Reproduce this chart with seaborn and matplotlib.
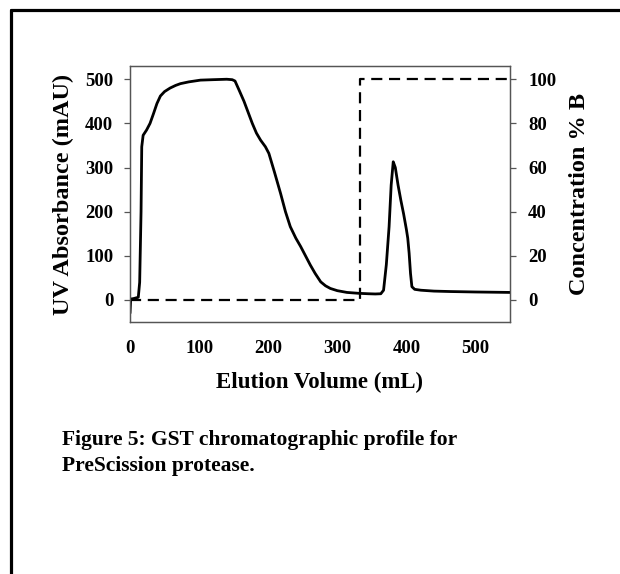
import matplotlib
matplotlib.use("Agg")
import matplotlib.pyplot as plt
from matplotlib.lines import Line2D
import pandas as pd
import seaborn as sns

# UV trace (mAU) against elution volume (mL)
uv_volume = [0, 1, 5, 12, 14, 16, 17, 19, 24, 29,
             34, 39, 44, 50, 58, 66, 73, 85, 102, 120,
             140, 148, 152, 158, 165, 171, 177, 183, 189, 196,
             201, 209, 218, 225, 232, 240, 247, 254, 261, 268,
             276, 283, 290, 300, 314, 331, 345, 355, 363, 367,
             371, 375, 378, 381, 384, 388, 392, 396, 400, 402,
             404, 406, 408, 412, 421, 440, 464, 500, 550]
uv_mau = [-30, 2, 3, 6, 40, 200, 347, 373, 385, 400,
          422, 445, 462, 472, 480, 486, 490, 494, 498, 499,
          500, 499, 496, 475, 450, 425, 400, 378, 362, 347,
          332, 290, 241, 200, 166, 140, 121, 100, 79, 60,
          41, 32, 26, 21, 17, 15, 14, 13.5, 14, 22,
          80, 166, 260, 313, 300, 260, 226, 195, 160, 140,
          106, 60, 30, 24, 22, 20, 19, 18, 17]

# Buffer B step gradient (%)
conc_volume = [0, 333, 333, 550]
conc_pct = [0, 0, 100, 100]

x_ticks = [0, 100, 200, 300, 400, 500]
uv_ticks = [0, 100, 200, 300, 400, 500]
conc_ticks = [0, 20, 40, 60, 80, 100]

uv_df = pd.DataFrame({"volume": uv_volume, "mau": uv_mau})
conc_df = pd.DataFrame({"volume": conc_volume, "pct": conc_pct})

sns.set_theme(style="white")
plt.rcParams["font.family"] = ["Liberation Serif", "DejaVu Serif"]
plt.rcParams["font.weight"] = "bold"
plt.rcParams["text.color"] = "black"
plt.rcParams["axes.labelcolor"] = "black"
plt.rcParams["xtick.color"] = "black"
plt.rcParams["ytick.color"] = "black"

fig = plt.figure(figsize=(6.2, 5.74), dpi=100)
ax = fig.add_axes([130 / 620, 1 - 322 / 574, 380 / 620, 256 / 574])
ax2 = ax.twinx()

sns.lineplot(data=uv_df, x="volume", y="mau", ax=ax, color="black",
             linewidth=2.0, estimator=None, sort=False, zorder=3)
sns.lineplot(data=conc_df, x="volume", y="pct", ax=ax2, color="black",
             linewidth=1.6, estimator=None, sort=False)
ax2.lines[0].set_dashes((5, 3))

ax.set_xlim(0, 550)
ax.set_ylim(-50, 530)
ax2.set_ylim(-10, 106)
ax.set_xticks(x_ticks)
ax.set_yticks(uv_ticks)
ax2.set_yticks(conc_ticks)

spine_color = "#555555"
for a in (ax, ax2):
    for s in a.spines.values():
        s.set_visible(True)
        s.set_color(spine_color)
        s.set_linewidth(0.9)

ax.tick_params(axis="both", direction="out", length=4, width=0.9,
               color=spine_color, labelcolor="black", labelsize=13.5, pad=8)
ax.tick_params(axis="x", pad=9)
ax2.tick_params(axis="y", direction="out", length=4, width=0.9,
                color=spine_color, labelcolor="black", labelsize=13.5, pad=9, right=True)
for lbl in ax.get_xticklabels() + ax.get_yticklabels() + ax2.get_yticklabels():
    lbl.set_fontweight("bold")

ax.set_xlabel("Elution Volume (mL)", fontsize=16.5, fontweight="bold", labelpad=11,
              color="black")
ax.set_ylabel("UV Absorbance (mAU)", fontsize=17.5, fontweight="bold", labelpad=8,
              color="black")
ax2.set_ylabel("Concentration % B", fontsize=17.5, fontweight="bold", labelpad=9,
               color="black")
ax.grid(False)
ax2.grid(False)

fig.text(62 / 620, 1 - 453 / 574, "Figure 5: GST chromatographic profile for\nPreScission protease.",
         fontsize=15.5, fontweight="bold", ha="left", va="center", linespacing=1.45,
         color="black")

# page frame along the top and left edges
fig.add_artist(Line2D([10.5 / 620, 1.0], [1 - 9.5 / 574, 1 - 9.5 / 574],
                      transform=fig.transFigure, color="black", linewidth=2.3))
fig.add_artist(Line2D([10.5 / 620, 10.5 / 620], [0.0, 1 - 9.5 / 574],
                      transform=fig.transFigure, color="black", linewidth=2.3))

fig.savefig("out.png", dpi=100, facecolor="white")
